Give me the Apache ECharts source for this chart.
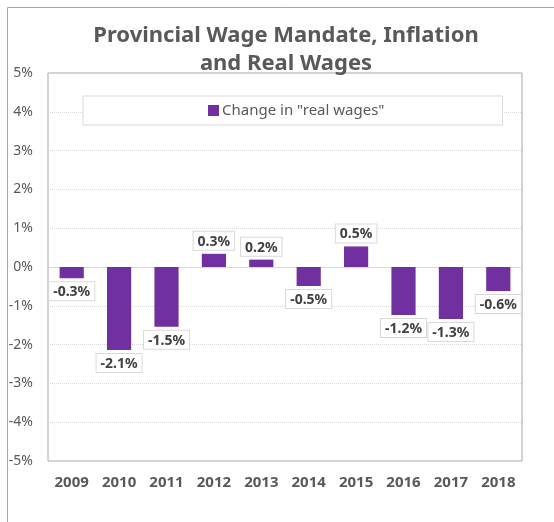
<!DOCTYPE html>
<html>
<head>
<meta charset="utf-8">
<script src="https://cdn.jsdelivr.net/npm/echarts@6/dist/echarts.min.js"></script>
<style>
  html, body { margin: 0; padding: 0; background: #fff; }
  #chart { width: 554px; height: 522px; }
</style>
</head>
<body>
<div id="chart"></div>
<script>
// data
const years = ['2009', '2010', '2011', '2012', '2013', '2014', '2015', '2016', '2017', '2018']
const realWages = [-0.29, -2.14, -1.54, 0.34, 0.19, -0.49, 0.53, -1.24, -1.34, -0.62]
const seriesName = 'Change in "real wages"'

const chart = echarts.init(document.getElementById('chart'), null, { renderer: 'canvas' })

const option = {
  animation: false,
  backgroundColor: '#fff',
  textStyle: { fontFamily: 'Noto Sans' },
  title: {
    text: 'Provincial Wage Mandate, Inflation\nand Real Wages',
    left: 281,
    textAlign: 'center',
    top: 17,
    textStyle: {
      fontFamily: 'Noto Sans',
      fontSize: 22,
      fontWeight: 'bold',
      lineHeight: 28,
      color: '#595959'
    }
  },
  graphic: [
    {
      // outer chart frame (only top and left edges visible)
      type: 'rect',
      shape: { x: 7.5, y: 7.5, width: 700, height: 700 },
      style: { fill: 'none', stroke: '#a6a6a6', lineWidth: 1 },
      silent: true,
      z: -1
    }
  ],
  legend: {
    data: [seriesName],
    left: 83,
    top: 96,
    padding: [7, 118, 7, 125],
    backgroundColor: '#fff',
    borderColor: '#d9d9d9',
    borderWidth: 1,
    itemWidth: 11,
    itemHeight: 11,
    itemGap: 4,
    icon: 'rect',
    textStyle: { fontFamily: 'Noto Sans', fontSize: 15, color: '#595959', padding: [0, 0, 0, -2] },
    z: 5
  },
  grid: {
    left: 48,
    right: 32,
    top: 73,
    bottom: 61,
    show: true,
    borderColor: '#a6a6a6',
    borderWidth: 1,
    backgroundColor: 'transparent'
  },
  xAxis: {
    type: 'category',
    data: years,
    axisLine: { show: false, onZero: false },
    axisTick: { show: false },
    axisLabel: {
      margin: 14,
      fontFamily: 'Noto Sans',
      fontSize: 15,
      fontWeight: 'bold',
      color: '#595959'
    }
  },
  yAxis: {
    type: 'value',
    min: -5,
    max: 5,
    interval: 1,
    axisLine: { show: false },
    axisTick: { show: false },
    axisLabel: {
      margin: 15,
      fontFamily: 'Noto Sans',
      fontSize: 14,
      color: '#595959',
      formatter: v => v + '%'
    },
    splitLine: {
      lineStyle: { color: '#d9d9d9', type: 'dotted', width: 1 }
    }
  },
  series: [
    {
      name: seriesName,
      type: 'bar',
      data: realWages,
      barWidth: '51%',
      itemStyle: { color: '#7030a0' },
      label: {
        show: true,
        position: 'outside',
        distance: 4,
        formatter: p => p.value.toFixed(1) + '%',
        fontFamily: 'Noto Sans',
        fontSize: 14,
        fontWeight: 'bold',
        color: '#404040',
        backgroundColor: '#fff',
        borderColor: '#d9d9d9',
        borderWidth: 1,
        padding: [3, 4, 1, 4]
      },
      markLine: {
        silent: true,
        symbol: ['none', 'none'],
        label: { show: false },
        lineStyle: { color: '#d9d9d9', type: 'solid', width: 1 },
        data: [{ yAxis: 0 }],
        z: 1
      },
      z: 3
    }
  ]
}

chart.setOption(option)
</script>
</body>
</html>
